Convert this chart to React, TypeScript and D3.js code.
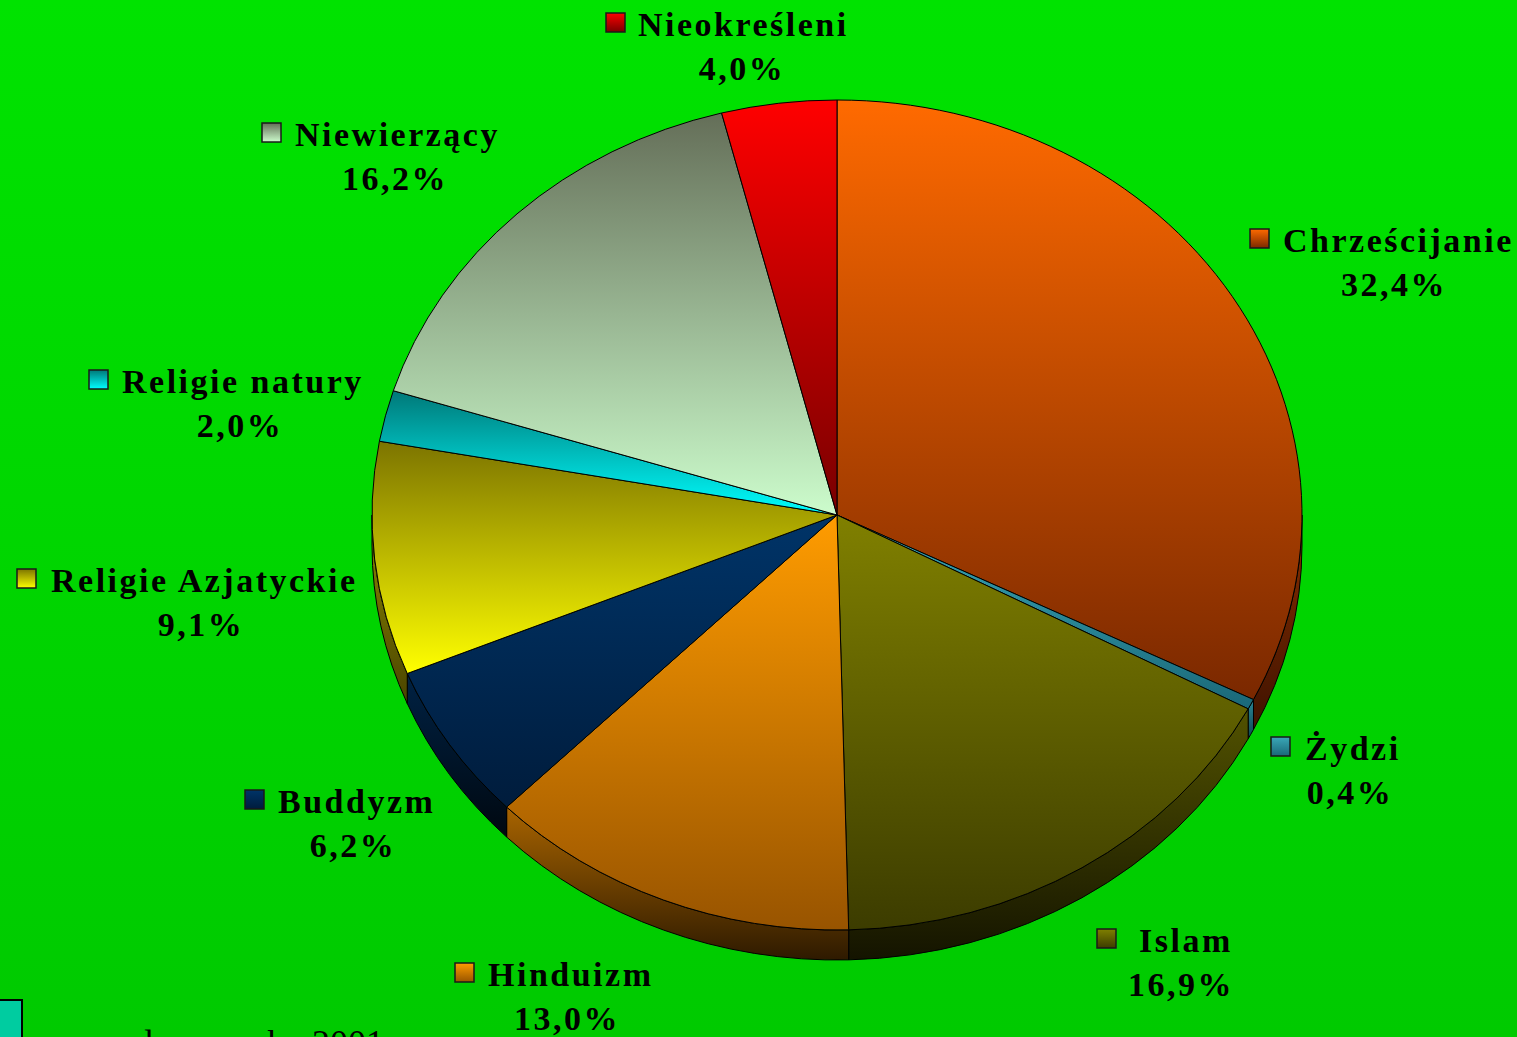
import React from 'react';
import * as d3 from 'd3';

const categories = ['Chrześcijanie', 'Żydzi', 'Islam', 'Hinduizm', 'Buddyzm', 'Religie Azjatyckie', 'Religie natury', 'Niewierzący', 'Nieokreśleni'];
const values = [32.4, 0.4, 16.9, 13.0, 6.2, 9.1, 2.0, 16.2, 4.0];
const percentLabels = ['32,4%', '0,4%', '16,9%', '13,0%', '6,2%', '9,1%', '2,0%', '16,2%', '4,0%'];

// top-face gradient [top, bottom]
const topColors: [string, string][] = [
  ['#ff6a00', '#7a2800'],
  ['#3aa8b8', '#1a6878'],
  ['#808000', '#3c3c00'],
  ['#ff9c00', '#985400'],
  ['#003468', '#001c3c'],
  ['#7c7400', '#ffff00'],
  ['#007878', '#00ffff'],
  ['#646e58', '#ccfccc'],
  ['#ff0000', '#780000'],
];
const sideColors: [string, string][] = [
  ['#8a3000', '#3e1200'],
  ['#2a8898', '#104450'],
  ['#525200', '#141400'],
  ['#a86400', '#2e1a00'],
  ['#002244', '#000810'],
  ['#908a00', '#4a4400'],
  ['#00a0a0', '#004848'],
  ['#889880', '#445040'],
  ['#900000', '#400000'],
];

// label layout: text start x, baseline y, square x, percent centre x
const labelLayout = [
  { tx: 1283, ty: 252, sx: 1250, px: 1394 },
  { tx: 1305, ty: 760, sx: 1271, px: 1350 },
  { tx: 1139, ty: 952, sx: 1097, px: 1181 },
  { tx: 488, ty: 986, sx: 455, px: 567 },
  { tx: 278, ty: 813, sx: 245, px: 353 },
  { tx: 51, ty: 592, sx: 17, px: 201 },
  { tx: 122, ty: 393, sx: 89, px: 240 },
  { tx: 295, ty: 146, sx: 262, px: 395 },
  { tx: 638, ty: 36, sx: 606, px: 742 },
];

const W = 1517;
const H = 1037;
const cx = 837;
const cy = 515;
const rx = 465;
const ry = 415;
const depth = 30;

function pt(a: number, dy = 0): [number, number] {
  return [cx + rx * Math.sin(a), cy - ry * Math.cos(a) + dy];
}

function topPath(a0: number, a1: number) {
  const p0 = pt(a0);
  const p1 = pt(a1);
  const large = a1 - a0 > Math.PI ? 1 : 0;
  return `M${cx},${cy}L${p0[0]},${p0[1]}A${rx},${ry} 0 ${large} 1 ${p1[0]},${p1[1]}Z`;
}

function wallPath(a0: number, a1: number) {
  const b0 = Math.max(a0, Math.PI / 2);
  const b1 = Math.min(a1, (3 * Math.PI) / 2);
  if (b1 <= b0) return null;
  const p0 = pt(b0);
  const p1 = pt(b1);
  const q0 = pt(b0, depth);
  const q1 = pt(b1, depth);
  return `M${p0[0]},${p0[1]}A${rx},${ry} 0 0 1 ${p1[0]},${p1[1]}L${q1[0]},${q1[1]}A${rx},${ry} 0 0 0 ${q0[0]},${q0[1]}Z`;
}

export default function App() {
  const arcs = d3
    .pie<number>()
    .sort(null)
    .startAngle(0)
    .endAngle(2 * Math.PI)(values);

  const font = "'Liberation Serif', 'Times New Roman', serif";

  return (
    <svg
      width={W}
      height={H}
      viewBox={`0 0 ${W} ${H}`}
      style={{ position: 'absolute', left: 0, top: 0, display: 'block' }}
    >
      <defs>
        <linearGradient id="bg" x1="0" y1="0" x2="0" y2="1">
          <stop offset="0" stopColor="#00e300" />
          <stop offset="1" stopColor="#00ca00" />
        </linearGradient>
        {topColors.map((c, i) => (
          <linearGradient key={'t' + i} id={'top' + i} x1="0" y1="0" x2="0" y2="1">
            <stop offset="0" stopColor={c[0]} />
            <stop offset="1" stopColor={c[1]} />
          </linearGradient>
        ))}
        {sideColors.map((c, i) => (
          <linearGradient key={'s' + i} id={'side' + i} x1="0" y1="0" x2="0" y2="1">
            <stop offset="0" stopColor={c[0]} />
            <stop offset="1" stopColor={c[1]} />
          </linearGradient>
        ))}
      </defs>
      <rect x={0} y={0} width={W} height={H} fill="url(#bg)" />

      {/* outer walls */}
      {arcs.map((a, i) => {
        const d = wallPath(a.startAngle, a.endAngle);
        return d ? (
          <path key={'w' + i} d={d} fill={`url(#side${i})`} stroke="#000" strokeWidth={1} strokeLinejoin="round" />
        ) : null;
      })}

      {/* top faces */}
      {arcs.map((a, i) => (
        <path
          key={'p' + i}
          d={topPath(a.startAngle, a.endAngle)}
          fill={`url(#top${i})`}
          stroke="#000"
          strokeWidth={1}
          strokeLinejoin="round"
        />
      ))}

      {/* labels */}
      {categories.map((name, i) => {
        const l = labelLayout[i];
        return (
          <g key={'l' + i}>
            <rect
              x={l.sx}
              y={l.ty - 23}
              width={19}
              height={19}
              fill={`url(#top${i})`}
              stroke="#1a1a1a"
              strokeWidth={1.5}
            />
            <text
              x={l.tx}
              y={l.ty}
              fontFamily={font}
              fontWeight="bold"
              fontSize={34}
              letterSpacing={2.5}
              fill="#000"
            >
              {name}
            </text>
            <text
              x={l.px}
              y={l.ty + 44}
              fontFamily={font}
              fontWeight="bold"
              fontSize={34}
              letterSpacing={2.5}
              textAnchor="middle"
              fill="#000"
            >
              {percentLabels[i]}
            </text>
          </g>
        );
      })}

      {/* cut-off footnote at the bottom */}
      <rect x={-2} y={1000} width={24} height={45} fill="#00cca0" stroke="#000" strokeWidth={2} />
      <text x={135} y={1055} fontFamily={font} fontSize={36} fill="#000">
        dane z roku 2001
      </text>
    </svg>
  );
}
